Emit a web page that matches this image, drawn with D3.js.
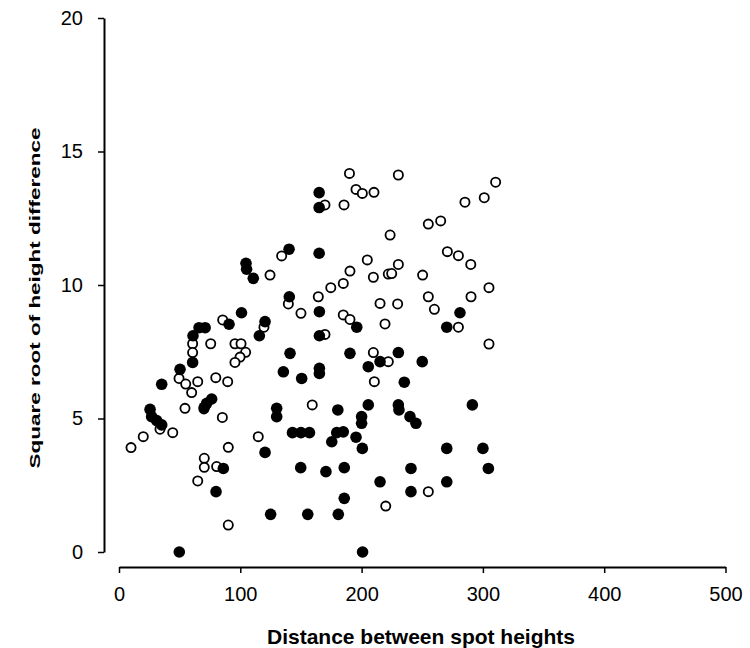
<!DOCTYPE html>
<html>
<head>
<meta charset="utf-8">
<script src="https://cdn.jsdelivr.net/npm/d3@7/dist/d3.min.js"></script>
<style>
  html, body { margin: 0; padding: 0; background: #fff; }
  svg { display: block; font-family: "Liberation Sans", Arial, sans-serif; }
</style>
</head>
<body>
<svg id="chart" width="750" height="648"></svg>
<script>
// Distance between spot heights vs. square root of height difference
const xTicks = [0, 100, 200, 300, 400, 500];
const yTicks = [0, 5, 10, 15, 20];

// Filled markers: [distance, sqrt height difference]
const filledDist = [101, 90.7, 66, 71, 61, 60.7, 50.3, 35.2, 76.4, 72.3, 70.3, 25.6, 26.9, 31.1, 35.2, 86, 80, 49.7,
  165, 165, 140.2, 165, 104.7, 105.2, 110.7, 140.4, 165.2, 196, 120.4, 115.7, 165.2, 141, 190.4, 215.2, 205.5,
  135.5, 150.6, 165.2, 165.2, 130, 130, 180.4, 205.5, 200, 200, 143, 150, 157, 179.5, 184.9, 175.4, 195.4, 200.6,
  120.4, 149.8, 170.6, 185.7, 215.2, 185.7, 125, 155.6, 180.8, 200.8, 281.1, 270.2, 230.3, 250, 235.2, 230.3,
  230.8, 239.9, 244.8, 291.3, 270.2, 300, 240.7, 304.5, 270.2, 240.7];
const filledDiff = [8.96, 8.53, 8.4, 8.4, 8.1, 7.1, 6.84, 6.28, 5.73, 5.57, 5.42, 5.34, 5.07, 4.92, 4.76, 3.13, 2.26, 0,
  13.46, 12.9, 11.34, 11.19, 10.81, 10.59, 10.25, 9.56, 9.0, 8.42, 8.63, 8.1, 8.1, 7.44, 7.44, 7.13, 6.94,
  6.75, 6.5, 6.88, 6.69, 5.38, 5.07, 5.32, 5.51, 5.07, 4.82, 4.47, 4.47, 4.47, 4.47, 4.5, 4.13, 4.3, 3.88,
  3.73, 3.16, 3.01, 3.16, 2.63, 2.01, 1.41, 1.41, 1.41, 0, 8.96, 8.42, 7.47, 7.13, 6.36, 5.51,
  5.32, 5.07, 4.82, 5.51, 3.88, 3.88, 3.13, 3.13, 2.63, 2.26];

// Open markers: [distance, sqrt height difference]
const openDist = [85.5, 60.7, 75.6, 95.6, 100.6, 104.4, 99.8, 95.6, 60.7, 49.5, 55, 64.9, 59.9, 79.8, 89.6, 70, 54.4,
  85.2, 33.8, 44.3, 20, 9.9, 70.3, 70.3, 80.5, 90.1, 64.9, 90.1, 190, 195.4, 200.6, 210.2, 169.8, 185.5, 223.5,
  134.1, 124.5, 204.7, 190.4, 209.7, 222, 184.9, 174.6, 164.3, 139.6, 150, 184.9, 190.4, 219.3, 119.5, 169.8,
  209.7, 222, 210.5, 159.3, 114.8, 219.9, 230.3, 310.5, 301.1, 285.2, 255, 265.2, 270.7, 279.8, 290, 230.3,
  224.8, 250.3, 305, 255, 290.2, 215.2, 229.7, 260, 279.8, 305, 255];
const openDiff = [8.69, 7.8, 7.8, 7.8, 7.8, 7.48, 7.3, 7.1, 7.47, 6.5, 6.29, 6.38, 5.97, 6.53, 6.38, 5.36, 5.38,
  5.04, 4.6, 4.47, 4.32, 3.91, 3.51, 3.17, 3.2, 3.92, 2.66, 1.01, 14.18, 13.58, 13.43, 13.47, 13.0, 13.0, 11.87,
  11.09, 10.37, 10.94, 10.52, 10.29, 10.41, 10.06, 9.9, 9.56, 9.29, 8.94, 8.88, 8.71, 8.54, 8.42, 8.15,
  7.47, 7.13, 6.38, 5.51, 4.32, 1.72, 14.12, 13.85, 13.27, 13.1, 12.28, 12.4, 11.25, 11.1, 10.77, 10.77,
  10.43, 10.37, 9.9, 9.56, 9.56, 9.31, 9.29, 9.09, 8.42, 7.79, 2.26];

const xTitle = "Distance between spot heights";
const yTitle = "Square root of height difference";

const svg = d3.select("#chart");

const x = d3.scaleLinear().domain([0, 500]).range([119, 725.5]);
const y = d3.scaleLinear().domain([0, 20]).range([552, 18]);

// y axis sits slightly left of the x origin
const yAxisX = 104;
const xAxisY = 567;

const yAxis = svg.append("g")
  .attr("transform", `translate(${yAxisX},0)`)
  .call(d3.axisLeft(y).tickValues(yTicks).tickSize(6).tickSizeOuter(0).tickPadding(15));

const xAxis = svg.append("g")
  .attr("transform", `translate(0,${xAxisY})`)
  .call(d3.axisBottom(x).tickValues(xTicks).tickSize(6).tickSizeOuter(0).tickPadding(14));

[yAxis, xAxis].forEach(g => {
  g.select(".domain").attr("stroke", "#000").attr("stroke-width", 2);
  g.selectAll(".tick line").attr("stroke", "#000").attr("stroke-width", 1.5);
  g.selectAll(".tick text")
    .attr("fill", "#000")
    .style("font-size", "20px")
    .style("font-family", "'Liberation Sans', Arial, sans-serif");
});

// Axis titles
svg.append("text")
  .attr("x", 421)
  .attr("y", 644)
  .attr("text-anchor", "middle")
  .style("font-size", "21px")
  .style("font-weight", "bold")
  .text(xTitle);

// vertical title is drawn narrow and drawn out along its length
svg.append("text")
  .attr("transform", "translate(40,298) rotate(-90) scale(1.5,1)")
  .attr("text-anchor", "middle")
  .style("font-size", "15px")
  .style("font-weight", "bold")
  .text(yTitle);

// Open circles first, filled drawn on top
const openPts = openDist.map((d, i) => [d, openDiff[i]]);
const filledPts = filledDist.map((d, i) => [d, filledDiff[i]]);

svg.append("g").selectAll("circle")
  .data(openPts)
  .join("circle")
  .attr("cx", d => x(d[0]))
  .attr("cy", d => y(d[1]))
  .attr("r", 4.6)
  .attr("fill", "#fff")
  .attr("stroke", "#000")
  .attr("stroke-width", 1.8);

svg.append("g").selectAll("circle")
  .data(filledPts)
  .join("circle")
  .attr("cx", d => x(d[0]))
  .attr("cy", d => y(d[1]))
  .attr("r", 5.8)
  .attr("fill", "#000");
</script>
</body>
</html>
